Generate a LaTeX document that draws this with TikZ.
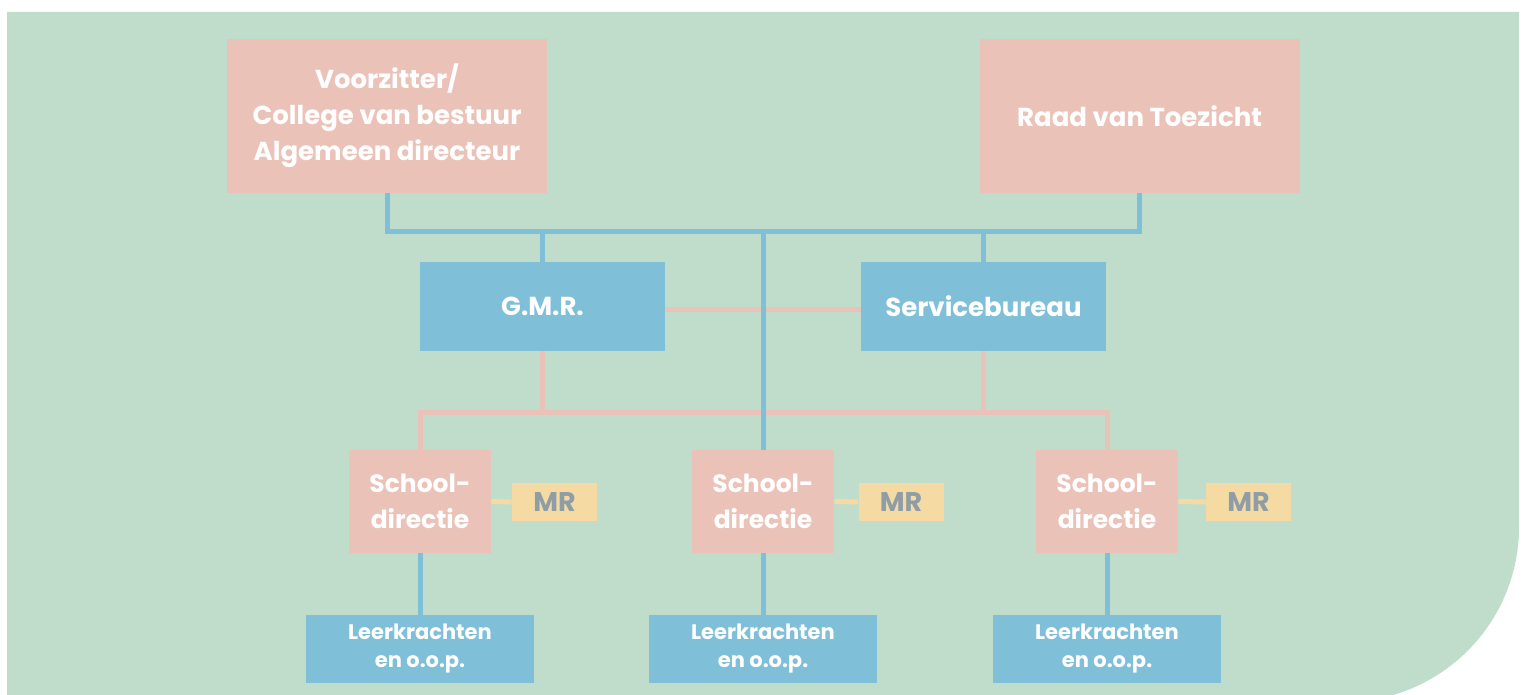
\documentclass[tikz,border=0pt]{standalone}
\usepackage{fontspec}
\setmainfont{Poppins}
\definecolor{bggreen}{HTML}{C0DDCB}
\definecolor{boxpink}{HTML}{EBC2B8}
\definecolor{boxblue}{HTML}{7FC0D8}
\definecolor{boxyellow}{HTML}{F5DBA3}
\definecolor{mrgray}{HTML}{8E9DA6}
\begin{document}
\begin{tikzpicture}[x=0.5pt, y=-0.5pt,
    box/.style={rectangle, inner sep=0pt, align=center, text=white,
        font=\bfseries\fontsize{13}{18}\selectfont},
    pinkbox/.style={box, fill=boxpink},
    bluebox/.style={box, fill=boxblue},
    topbox/.style={pinkbox, minimum width=160pt, minimum height=77pt},
    midbox/.style={bluebox, minimum width=122.5pt, minimum height=44.5pt},
    schoolbox/.style={pinkbox, minimum width=71pt, minimum height=51.5pt,
        font=\bfseries\fontsize{12.5}{18}\selectfont},
    mrbox/.style={box, fill=boxyellow, text=mrgray, minimum width=42.5pt, minimum height=19pt,
        font=\bfseries\fontsize{13.5}{18}\selectfont},
    leerbox/.style={bluebox, minimum width=114pt, minimum height=34pt,
        font=\bfseries\fontsize{10.5}{14}\selectfont},
    blueline/.style={boxblue, line width=2.5pt},
    pinkline/.style={boxpink, line width=2.5pt},
    yellowline/.style={boxyellow, line width=2.5pt}]
    \clip (0,0) rectangle (1524,695);

    % Background
    \fill[bggreen] (7,12) -- (1519,12) -- (1519,527)
        .. controls (1519,623.6) and (1440.4,702) .. (1344,702) -- (7,702) -- cycle;

    % Top level
    \node[topbox] (voorzitter) at (387,116) {Voorzitter/\\College van bestuur\\Algemeen directeur};
    \node[topbox] (raad) at (1139.5,116) {Raad van Toezicht};

    % Middle level
    \node[midbox] (gmr) at (542.5,306.5) {G.M.R.};
    \node[midbox] (service) at (983.5,306.5) {Servicebureau};

    % Schools
    \foreach \i/\x/\m in {1/420/554.5, 2/763/901, 3/1107/1248.5} {
        \node[schoolbox] (school\i) at (\x,501.5) {School-\\directie};
        \node[mrbox] (mr\i) at (\m,502) {MR};
        \node[leerbox] (leer\i) at (\x,649) {Leerkrachten\\en o.o.p.};
    }

    \coordinate (topbar) at (763,232);
    \coordinate (pinkbar) at (763,412);

    % Pink connections
    \draw[pinkline] ([yshift=-1.5pt]gmr.east) -- ([yshift=-1.5pt]service.west);
    \draw[pinkline] (school1.north) |- (pinkbar) -| (school3.north);
    \draw[pinkline] (gmr.south) -- (gmr.south |- pinkbar);
    \draw[pinkline] (service.south) -- (service.south |- pinkbar);

    % Blue connections
    \draw[blueline] (voorzitter.south) |- (topbar) -| (raad.south);
    \draw[blueline] (gmr.north) -- (gmr.north |- topbar);
    \draw[blueline] (service.north) -- (service.north |- topbar);
    \draw[blueline] (topbar) -- (school2.north);
    \foreach \i in {1,2,3} {
        \draw[blueline] (school\i.south) -- (leer\i.north);
        \draw[yellowline] (school\i.east) -- (mr\i.west);
    }
\end{tikzpicture}
\end{document}
